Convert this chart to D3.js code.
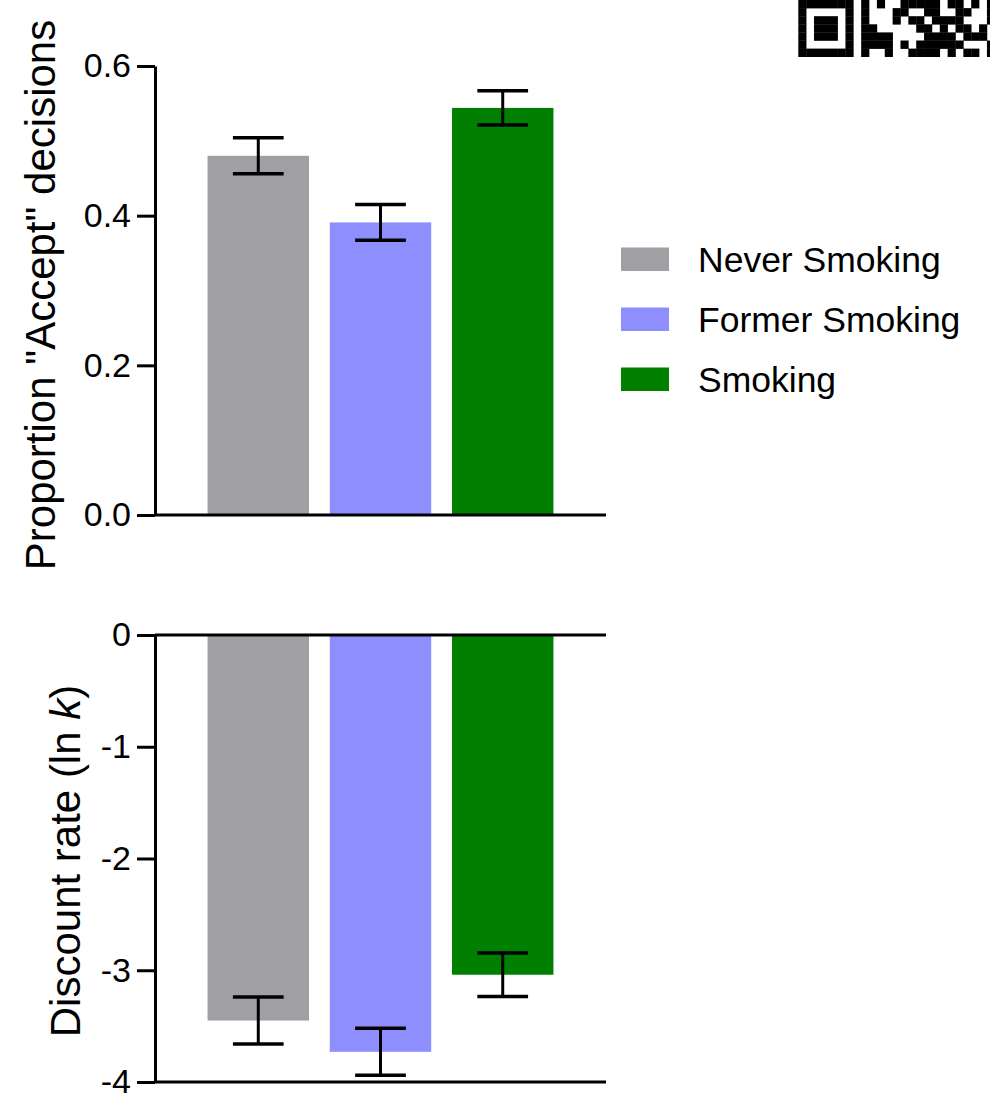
<!DOCTYPE html>
<html>
<head>
<meta charset="utf-8">
<script src="https://cdn.jsdelivr.net/npm/d3@7"></script>
<style>
  body { margin: 0; background: #fff; }
  svg { display: block; font-family: Arial, "Liberation Sans", sans-serif; }
  .axis path, .axis line { stroke: #000; stroke-width: 3; }
  .axis text { font-size: 34px; fill: #000; }
</style>
</head>
<body>
<svg id="vis" width="990" height="1094"></svg>
<script>
// groups and values
const groups = ["Never Smoking", "Former Smoking", "Smoking"];
const colors = ["#a09fa4", "#8e8eff", "#007f00"];

const acceptMean = [0.480, 0.391, 0.544];
const acceptSem = [0.024, 0.024, 0.023];

const lnkMean = [-3.45, -3.73, -3.04];
const lnkSem = [0.21, 0.21, 0.195];

const acceptTicks = [0, 0.2, 0.4, 0.6];
const lnkTicks = [-4, -3, -2, -1, 0];

// fragment of a QR code cut off in the top right corner
const qrRows = [
  "1111111010100111110110101",
  "1000001010001100110011001",
  "1011101010001011011110001",
  "1011101011000001101011010",
  "1011101011110000111101110",
  "1000001011110101111110001",
  "1111111010010011110101101"
];

const svg = d3.select("svg#vis");

const x = d3.scaleBand()
  .domain(groups)
  .range([155, 606])
  .paddingInner(0.17)
  .paddingOuter(0.43);

// ---- top panel: proportion accept ----
const y1 = d3.scaleLinear().domain([0, 0.6]).range([515, 66]);

const gTop = svg.append("g").attr("id", "panelTop");

gTop.selectAll("rect.bar")
  .data(groups)
  .enter()
  .append("rect")
  .attr("class", "bar")
  .attr("x", d => x(d))
  .attr("width", x.bandwidth())
  .attr("y", (d, i) => y1(acceptMean[i]))
  .attr("height", (d, i) => y1(0) - y1(acceptMean[i]))
  .attr("fill", (d, i) => colors[i]);

drawErrors(gTop, acceptMean, acceptSem, y1);

gTop.append("g")
  .attr("class", "axis")
  .attr("transform", "translate(155,0)")
  .call(d3.axisLeft(y1).tickValues(acceptTicks).tickFormat(d3.format(".1f")).tickSize(18).tickSizeOuter(0).tickPadding(6));

gTop.append("line")
  .attr("x1", 155).attr("x2", 606)
  .attr("y1", y1(0)).attr("y2", y1(0))
  .attr("stroke", "#000").attr("stroke-width", 3);

gTop.append("text")
  .attr("transform", "translate(55,295) rotate(-90)")
  .attr("text-anchor", "middle")
  .attr("font-size", 42)
  .text("Proportion \"Accept\" decisions");

// ---- bottom panel: discount rate ----
const y2 = d3.scaleLinear().domain([-4, 0]).range([1082, 635]);

const gBot = svg.append("g").attr("id", "panelBottom");

gBot.selectAll("rect.bar")
  .data(groups)
  .enter()
  .append("rect")
  .attr("class", "bar")
  .attr("x", d => x(d))
  .attr("width", x.bandwidth())
  .attr("y", y2(0))
  .attr("height", (d, i) => y2(lnkMean[i]) - y2(0))
  .attr("fill", (d, i) => colors[i]);

drawErrors(gBot, lnkMean, lnkSem, y2);

gBot.append("g")
  .attr("class", "axis")
  .attr("transform", "translate(155,0)")
  .call(d3.axisLeft(y2).tickValues(lnkTicks).tickFormat(d => String(d)).tickSize(18).tickSizeOuter(0).tickPadding(6));

[0, -4].forEach(v => {
  gBot.append("line")
    .attr("x1", 155).attr("x2", 606)
    .attr("y1", y2(v)).attr("y2", y2(v))
    .attr("stroke", "#000").attr("stroke-width", 3);
});

const lab = gBot.append("text")
  .attr("transform", "translate(80,861) rotate(-90)")
  .attr("text-anchor", "middle")
  .attr("font-size", 42);
lab.append("tspan").text("Discount rate (ln ");
lab.append("tspan").attr("font-style", "italic").text("k");
lab.append("tspan").text(")");

// ---- legend ----
const legend = svg.append("g").attr("id", "legend");
const leg = legend.selectAll("g.item")
  .data(groups)
  .enter()
  .append("g")
  .attr("class", "item")
  .attr("transform", (d, i) => "translate(621," + (271.5 + i * 60) + ")");
leg.append("rect")
  .attr("y", -24).attr("width", 48).attr("height", 23.5)
  .attr("fill", (d, i) => colors[i]);
leg.append("text")
  .attr("x", 77)
  .attr("font-size", 35.5)
  .text(d => d);

// ---- qr fragment ----
const m = 7.86;
const qr = svg.append("g").attr("id", "qr").attr("transform", "translate(798.3,0)");
qrRows.forEach((row, r) => {
  row.split("").forEach((c, k) => {
    if (c === "1") {
      qr.append("rect")
        .attr("x", k * m).attr("y", r * 8.1)
        .attr("width", m + 0.3).attr("height", 8.4)
        .attr("fill", "#000");
    }
  });
});

function drawErrors(g, means, sems, y) {
  const cap = x.bandwidth() / 2;
  groups.forEach((d, i) => {
    const cx = x(d) + x.bandwidth() / 2;
    const hi = y(means[i] + sems[i]);
    const lo = y(means[i] - sems[i]);
    g.append("line")
      .attr("x1", cx).attr("x2", cx).attr("y1", hi).attr("y2", lo)
      .attr("stroke", "#000").attr("stroke-width", 3);
    [hi, lo].forEach(v => {
      g.append("line")
        .attr("x1", cx - cap / 2).attr("x2", cx + cap / 2)
        .attr("y1", v).attr("y2", v)
        .attr("stroke", "#000").attr("stroke-width", 3.5);
    });
  });
}
</script>
</body>
</html>
